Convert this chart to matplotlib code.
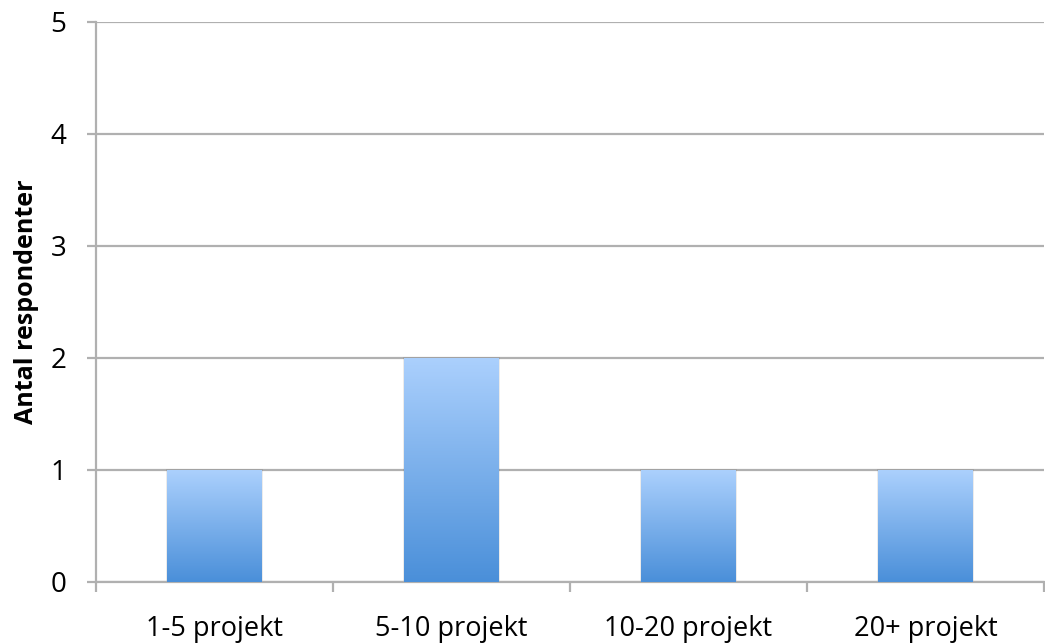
import matplotlib
matplotlib.use("Agg")
import matplotlib.pyplot as plt
import numpy as np
from matplotlib.colors import LinearSegmentedColormap

categories = ["1-5 projekt", "5-10 projekt", "10-20 projekt", "20+ projekt"]
values = [1, 2, 1, 1]
y_label = "Antal respondenter"
y_ticks = [0, 1, 2, 3, 4, 5]

plt.rcParams["font.family"] = ["Open Sans", "DejaVu Sans"]

fig = plt.figure(figsize=(10.45, 6.43), dpi=100)
ax = fig.add_axes([96 / 1045, 61 / 643, 948 / 1045, 560 / 643])

grid_color = "#b0b0b0"
x = np.arange(len(categories))
bar_w = 0.40
bars = ax.bar(x, values, width=bar_w, color="none", zorder=3)

# vertical gradient fill for each bar
cmap = LinearSegmentedColormap.from_list("blues", ["#4a8fd9", "#abd0fd"])
grad = np.linspace(0, 1, 256).reshape(-1, 1)
for b in bars:
    x0, y0 = b.get_x(), b.get_y()
    w, h = b.get_width(), b.get_height()
    # soft shadow
    ax.add_patch(plt.Rectangle((x0 - 0.006, y0), w + 0.012, h + 0.01,
                               color="#000000", alpha=0.08, lw=0, zorder=2.5))
    ax.imshow(grad, cmap=cmap, origin="lower", aspect="auto",
              extent=(x0, x0 + w, y0, y0 + h), zorder=3)

ax.set_xlim(-0.5, len(categories) - 0.5)
ax.set_ylim(0, 5)
ax.set_yticks(y_ticks)
ax.set_yticklabels([str(t) for t in y_ticks])
ax.yaxis.grid(True, color=grid_color, linewidth=1.6, zorder=1)
ax.set_axisbelow(True)

ax.set_xticks(x)
ax.set_xticklabels(categories)
ax.set_xticks(np.arange(-0.5, len(categories)), minor=True)
ax.tick_params(axis="x", which="major", length=0, pad=24, labelsize=19.5)
ax.tick_params(axis="x", which="minor", length=7, width=1.6, color=grid_color, direction="out")
ax.tick_params(axis="y", length=6.5, width=1.6, color=grid_color, pad=15, labelsize=20)

for s in ["top", "right"]:
    ax.spines[s].set_visible(False)
for s in ["left", "bottom"]:
    ax.spines[s].set_color(grid_color)
    ax.spines[s].set_linewidth(1.6)

ax.set_ylabel(y_label, fontsize=18, fontweight="bold", labelpad=8)

fig.savefig("out.png", dpi=100)
